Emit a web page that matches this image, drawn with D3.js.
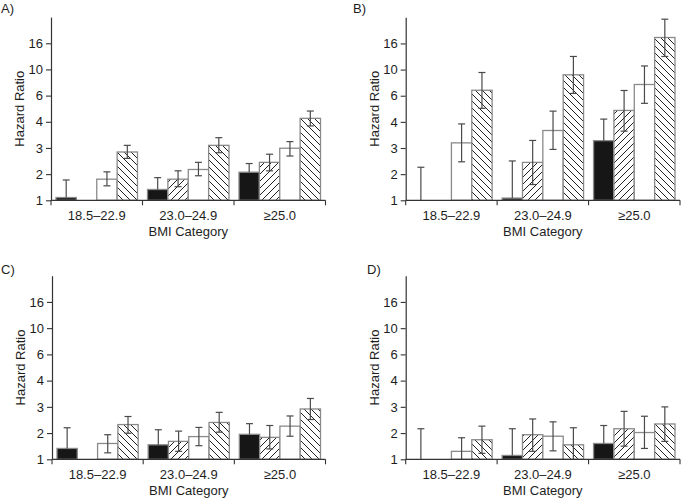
<!DOCTYPE html>
<html><head><meta charset="utf-8">
<script src="https://cdn.jsdelivr.net/npm/d3@7"></script>
<style>
body{margin:0;background:#fff}
svg{display:block}
text{font-family:"Liberation Sans",Arial,Helvetica,sans-serif;fill:#1e1e1e}
</style>
</head><body>
<svg id="chart" width="681" height="498"></svg>
<script>
// ---- data ----
const categories = ["18.5\u201322.9", "23.0\u201324.9", "\u226525.0"];
const seriesNames = ["black", "hatchForward", "white", "hatchBack"];
const tickValues = [1, 1.585, 2.512, 3.981, 6.310, 10, 15.85];
const tickLabels = ["1", "2", "3", "4", "6", "10", "16"];
const axisMax = 25.12;
const panelLabels = ["A)", "B)", "C)", "D)"];
const yTitle = "Hazard Ratio";
const xTitle = "BMI Category";

// Panel A
const A_black = [1.05, 1.21, 1.64];  const A_black_hi = [1.43, 1.49, 1.91];
const A_fwd   = [null, 1.45, 1.95];  const A_fwd_lo = [null, 1.27, 1.68];  const A_fwd_hi = [null, 1.68, 2.25];
const A_white = [1.45, 1.72, 2.50];  const A_white_lo = [1.29, 1.54, 2.18]; const A_white_hi = [1.65, 1.95, 2.81];
const A_back  = [2.34, 2.63, 4.23];  const A_back_lo = [2.09, 2.31, 3.70];  const A_back_hi = [2.63, 3.01, 4.81];
// Panel B
const B_black = [1.00, 1.04, 2.86];  const B_black_hi = [1.79, 2.00, 4.18];
const B_fwd   = [null, 1.95, 4.87];  const B_fwd_lo = [null, 1.32, 3.38];  const B_fwd_hi = [null, 2.87, 6.92];
const B_white = [2.75, 3.42, 7.69];  const B_white_lo = [1.97, 2.45, 5.52]; const B_white_hi = [3.84, 4.81, 10.66];
const B_back  = [6.95, 9.12, 17.6];  const B_back_lo = [5.05, 6.57, 12.6];  const B_back_hi = [9.5, 12.6, 24.3];
// Panel C
const C_black = [1.21, 1.29, 1.55];  const C_black_hi = [1.74, 1.68, 1.87];
const C_fwd   = [null, 1.37, 1.47];  const C_fwd_lo = [null, 1.15, 1.20];  const C_fwd_hi = [null, 1.64, 1.81];
const C_white = [1.32, 1.49, 1.79];  const C_white_lo = [1.12, 1.27, 1.50]; const C_white_hi = [1.54, 1.75, 2.14];
const C_back  = [1.84, 1.91, 2.42];  const C_back_lo = [1.58, 1.61, 2.01];  const C_back_hi = [2.12, 2.28, 2.91];
// Panel D
const D_black = [1.00, 1.07, 1.32];  const D_black_hi = [1.71, 1.71, 1.81];
const D_fwd   = [null, 1.54, 1.71];  const D_fwd_lo = [null, 1.15, 1.26];  const D_fwd_hi = [null, 2.03, 2.32];
const D_white = [1.15, 1.50, 1.60];  const D_white_lo = [0.90, 1.16, 1.21]; const D_white_hi = [1.46, 1.93, 2.13];
const D_back  = [1.41, 1.29, 1.86];  const D_back_lo = [1.11, 0.95, 1.37];  const D_back_hi = [1.79, 1.74, 2.51];

function build(black, blackHi, fwd, fwdLo, fwdHi, white, whiteLo, whiteHi, back, backLo, backHi) {
  return [
    {s: "black", v: black, lo: black.map(() => null), hi: blackHi},
    {s: "hatchForward", v: fwd, lo: fwdLo, hi: fwdHi},
    {s: "white", v: white, lo: whiteLo, hi: whiteHi},
    {s: "hatchBack", v: back, lo: backLo, hi: backHi}
  ];
}
const panelData = [
  build(A_black, A_black_hi, A_fwd, A_fwd_lo, A_fwd_hi, A_white, A_white_lo, A_white_hi, A_back, A_back_lo, A_back_hi),
  build(B_black, B_black_hi, B_fwd, B_fwd_lo, B_fwd_hi, B_white, B_white_lo, B_white_hi, B_back, B_back_lo, B_back_hi),
  build(C_black, C_black_hi, C_fwd, C_fwd_lo, C_fwd_hi, C_white, C_white_lo, C_white_hi, C_back, C_back_lo, C_back_hi),
  build(D_black, D_black_hi, D_fwd, D_fwd_lo, D_fwd_hi, D_white, D_white_lo, D_white_hi, D_back, D_back_lo, D_back_hi)
];

// ---- layout ----
const layouts = [
  {x0: 51,    x1: 325.5, yBase: 200.3, yTop: 17.1,  lx: 1,   ly: 13},
  {x0: 405.7, x1: 680,   yBase: 200.3, yTop: 17.3,  lx: 353, ly: 13},
  {x0: 52,    x1: 325.5, yBase: 459.3, yTop: 275.7, lx: 1,   ly: 274},
  {x0: 405.7, x1: 680,   yBase: 459.3, yTop: 275.7, lx: 367, ly: 274}
];

const svg = d3.select("#chart");
const defs = svg.append("defs");
function hatch(id, d) {
  const p = defs.append("pattern").attr("id", id).attr("patternUnits", "userSpaceOnUse")
    .attr("width", 7).attr("height", 7);
  p.append("rect").attr("width", 7).attr("height", 7).attr("fill", "#fff");
  p.append("path").attr("d", d).attr("stroke", "#222").attr("stroke-width", 1).attr("fill", "none");
}
hatch("hf", "M-1,1 l2,-2 M0,7 l7,-7 M6,8 l2,-2");
hatch("hb", "M-1,6 l2,2 M0,0 l7,7 M6,-1 l2,2");
const fills = {black: "#161616", hatchForward: "url(#hf)", white: "#fff", hatchBack: "url(#hb)"};

panelData.forEach((pd, pi) => {
  const L = layouts[pi];
  const g = svg.append("g");
  const y = d3.scaleLog().domain([1, axisMax]).range([L.yBase, L.yTop]).clamp(true);
  const x0 = d3.scaleBand().domain(categories).range([L.x0, L.x1]).padding(0);
  const bw = x0.bandwidth();
  const x1 = d3.scaleBand().domain(seriesNames).range([5, bw - 5]).padding(0);

  // bars
  pd.forEach(ser => {
    categories.forEach((c, ci) => {
      const v = ser.v[ci];
      if (v == null) return;
      const bx = x0(c) + x1(ser.s);
      const h = L.yBase - y(v);
      if (h > 0.3) {
        g.append("rect").attr("x", bx).attr("y", y(v)).attr("width", x1.bandwidth()).attr("height", h)
          .attr("fill", fills[ser.s]).attr("stroke", "#8a8a8a").attr("stroke-width", 1.3);
      }
    });
  });
  // error bars
  pd.forEach(ser => {
    categories.forEach((c, ci) => {
      const v = ser.v[ci];
      if (v == null) return;
      const cx = x0(c) + x1(ser.s) + x1.bandwidth() / 2;
      const hi = ser.hi[ci], lo = ser.lo[ci];
      const yLo = lo == null ? y(v) : y(Math.max(lo, 1));
      g.append("line").attr("x1", cx).attr("x2", cx).attr("y1", yLo).attr("y2", y(hi))
        .attr("stroke", "#4a4a4a").attr("stroke-width", 1.2);
      g.append("line").attr("x1", cx - 3.5).attr("x2", cx + 3.5).attr("y1", y(hi)).attr("y2", y(hi))
        .attr("stroke", "#4a4a4a").attr("stroke-width", 1.2);
      if (lo != null && lo >= 1) {
        g.append("line").attr("x1", cx - 3.5).attr("x2", cx + 3.5).attr("y1", y(lo)).attr("y2", y(lo))
          .attr("stroke", "#4a4a4a").attr("stroke-width", 1.2);
      }
    });
  });

  // y axis
  const ya = g.append("g").attr("transform", `translate(${L.x0},0)`)
    .call(d3.axisLeft(y).tickValues(tickValues).tickFormat((d, i) => tickLabels[i]).tickSize(5).tickSizeOuter(0).tickPadding(3));
  ya.select(".domain").attr("stroke", "#333").attr("stroke-width", 1.2);
  ya.selectAll(".tick line").attr("stroke", "#333").attr("stroke-width", 1.1);
  ya.selectAll(".tick text").attr("font-size", 13).attr("fill", "#1e1e1e").attr("font-family", null);

  // x axis
  g.append("line").attr("x1", L.x0).attr("x2", L.x1).attr("y1", L.yBase).attr("y2", L.yBase)
    .attr("stroke", "#333").attr("stroke-width", 1.2);
  const bounds = categories.map(c => x0(c)).concat([L.x1]);
  bounds.forEach(bx => {
    g.append("line").attr("x1", bx).attr("x2", bx).attr("y1", L.yBase).attr("y2", L.yBase + 5)
      .attr("stroke", "#333").attr("stroke-width", 1.1);
  });
  categories.forEach(c => {
    g.append("text").attr("x", x0(c) + bw / 2).attr("y", L.yBase + 20).attr("text-anchor", "middle")
      .attr("font-size", 13).text(c);
  });
  g.append("text").attr("x", (L.x0 + L.x1) / 2).attr("y", L.yBase + 36).attr("text-anchor", "middle")
    .attr("font-size", 13).text(xTitle);
  g.append("text").attr("transform", `translate(${L.x0 - 27},${(L.yBase + L.yTop) / 2}) rotate(-90)`)
    .attr("text-anchor", "middle").attr("font-size", 13).text(yTitle);
  g.append("text").attr("x", L.lx).attr("y", L.ly).attr("font-size", 13).text(panelLabels[pi]);
});
</script>
</body></html>
